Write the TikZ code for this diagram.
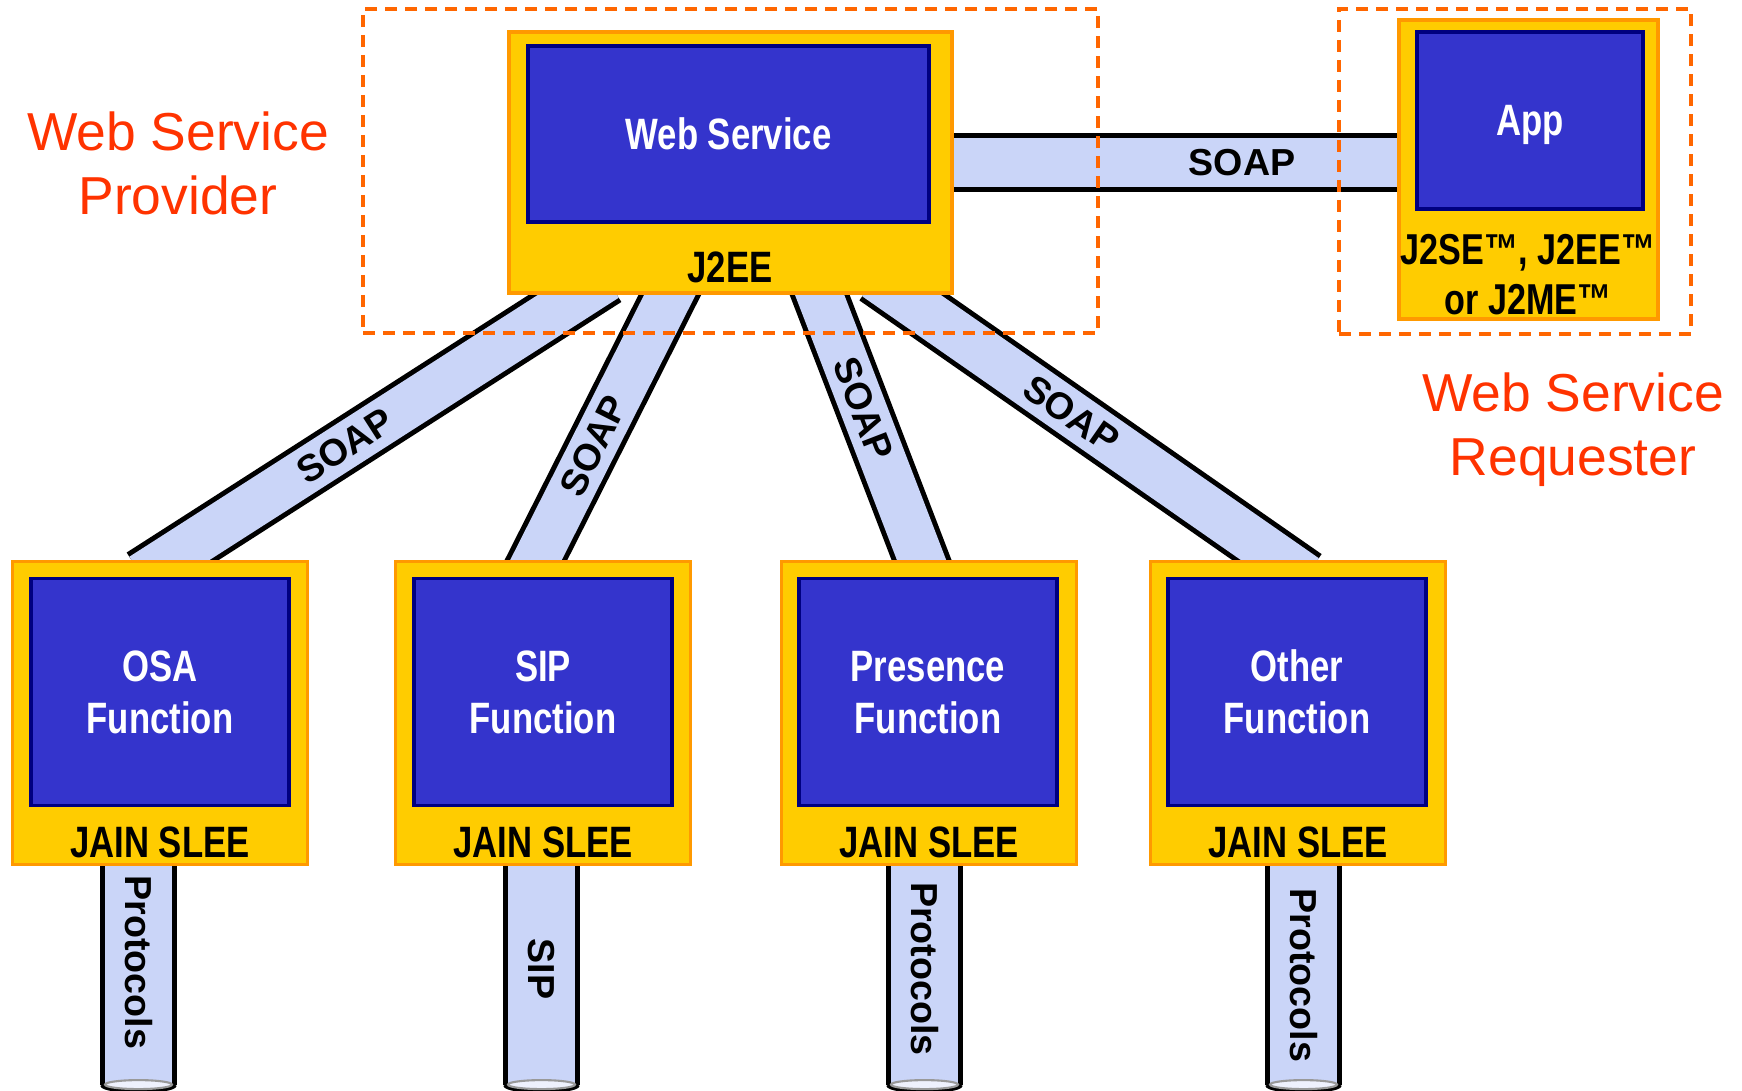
\documentclass[tikz,border=0pt]{standalone}
\usepackage{fontspec}
\setmainfont{Liberation Sans}
\newfontfamily\narrowfont[FakeStretch=0.79]{Liberation Sans}
\usepackage{xcolor}
\usepackage{tikz}
\usetikzlibrary{calc, backgrounds}
\definecolor{jsyellow}{HTML}{FFCC00}
\definecolor{jsorange}{HTML}{FF9900}
\definecolor{jsblue}{HTML}{3434CC}
\definecolor{jsnavy}{HTML}{000080}
\definecolor{jspipe}{HTML}{CAD5F8}
\definecolor{jscap}{HTML}{EEF1FD}
\definecolor{jszone}{HTML}{FF6600}
\definecolor{jsred}{HTML}{FF3300}

\begin{document}
\begin{tikzpicture}[
    platform/.style={rectangle, draw=jsorange, fill=jsyellow, line width=0.9pt, inner sep=0pt},
    func/.style={rectangle, draw=jsnavy, fill=jsblue, line width=1pt, text=white, text depth=0pt, align=center, font=\narrowfont\bfseries\fontsize{12.5}{14.8}\selectfont},
    slee/.style={platform, minimum width=2.95cm, minimum height=3.03cm},
    sleefun/.style={func, minimum width=2.58cm, minimum height=2.27cm},
    caption/.style={align=center, inner sep=0pt, font=\narrowfont\bfseries\fontsize{12.5}{14.8}\selectfont},
    pipe/.style={draw=black, line width=0.05cm, double=jspipe, double distance=#1, shorten <=-0.3cm, shorten >=-0.3cm},
    wire/.style={inner sep=0pt, font=\bfseries\fontsize{10.7}{12}\selectfont},
    tubecap/.style={draw=gray!80, line width=0.6pt, fill=jscap},
    zone/.style={rectangle, draw=jszone, line width=1pt, dash pattern=on 0.12cm off 0.08cm, inner sep=0pt},
    role/.style={text=jsred, align=center, font=\fontsize{15.2}{18.2}\selectfont}
]
\useasboundingbox (0,0) rectangle (17.42,10.90);

% provider side
\node[platform, minimum width=4.43cm, minimum height=2.61cm] (ws) at (7.305,9.275) {};
\node[func, minimum width=4.01cm, minimum height=1.76cm] (wsfun) at (7.285,9.56) {Web Service};
\node[caption] (j2ee) at (7.30,8.23) {J2EE};

% requester side
\node[platform, minimum width=2.59cm, minimum height=2.99cm] (app) at (15.285,9.205) {};
\node[func, minimum width=2.26cm, minimum height=1.77cm] (appfun) at (15.30,9.695) {App};
\node[caption, font=\narrowfont\bfseries\fontsize{12.3}{14.2}\selectfont] (j2se) at (15.28,8.15) {J2SE™, J2EE™\\or J2ME™};

% JAIN SLEE functions
\node[slee] (osa) at (1.60,3.77) {};
\node[sleefun] (osafun) at (1.60,3.98) {OSA\\Function};
\node[caption] (osaslee) at (1.60,2.48) {JAIN SLEE};

\node[slee] (sip) at (5.43,3.77) {};
\node[sleefun] (sipfun) at (5.43,3.98) {SIP\\Function};
\node[caption] (sipslee) at (5.43,2.48) {JAIN SLEE};

\node[slee] (pres) at (9.29,3.77) {};
\node[sleefun] (presfun) at (9.28,3.98) {Presence\\Function};
\node[caption] (presslee) at (9.29,2.48) {JAIN SLEE};

\node[slee] (other) at (12.98,3.77) {};
\node[sleefun] (otherfun) at (12.97,3.98) {Other\\Function};
\node[caption] (otherslee) at (12.98,2.48) {JAIN SLEE};

% SOAP links and protocol tubes
\begin{scope}[on background layer]
\draw[pipe=0.49cm] (ws.east) -- node[wire, pos=0.65] (soapapp) {SOAP} (ws.east -| app.west);
\draw[pipe=0.46cm] ($(ws.south)+(-1.495,0)$) -- node[wire, sloped, pos=0.57] (soaposa) {SOAP} ($(osa.north)+(0.07,0)$);
\draw[pipe=0.46cm] ($(ws.south)+(-0.605,0)$) -- node[wire, sloped, pos=0.57] (soapsip) {SOAP} ($(sip.north)+(-0.07,0)$);
\draw[pipe=0.46cm] ($(ws.south)+(0.89,0)$) -- node[wire, sloped, pos=0.43] (soappres) {SOAP} ($(pres.north)+(-0.075,0)$);
\draw[pipe=0.46cm] ($(ws.south)+(1.695,0)$) -- node[wire, sloped, pos=0.45] (soapother) {SOAP} ($(other.north)+(-0.17,0)$);

\foreach \tb/\dx/\p/\txt in {osa/-0.215/0.44/Protocols, sip/-0.015/0.47/SIP, pres/-0.045/0.47/Protocols, other/0.055/0.5/Protocols} {
    \path ($(\tb.south)+(\dx,0)$) coordinate (\tb top) ++(0,-2.185) coordinate (\tb end);
    \draw[pipe=0.67cm, shorten >=0pt] (\tb top) -- node[wire, rotate=-90, pos=\p] (\tb proto) {\txt} (\tb end);
    \draw[line width=0.05cm] ($(\tb end)+(-0.36,0)$) arc[start angle=180, end angle=360, x radius=0.36cm, y radius=0.06cm];
    \draw[tubecap] (\tb end) ellipse[x radius=0.335cm, y radius=0.045cm];
}
\end{scope}

% provider / requester zones
\node[zone, minimum width=7.35cm, minimum height=3.24cm] (provider) at (7.305,9.19) {};
\node[zone, minimum width=3.52cm, minimum height=3.25cm] (requester) at (15.15,9.185) {};
\node[role] (providerlbl) at (1.78,9.265) {Web Service\\Provider};
\node[role] (requesterlbl) at (15.73,6.60) {Web Service\\Requester};

\end{tikzpicture}
\end{document}
